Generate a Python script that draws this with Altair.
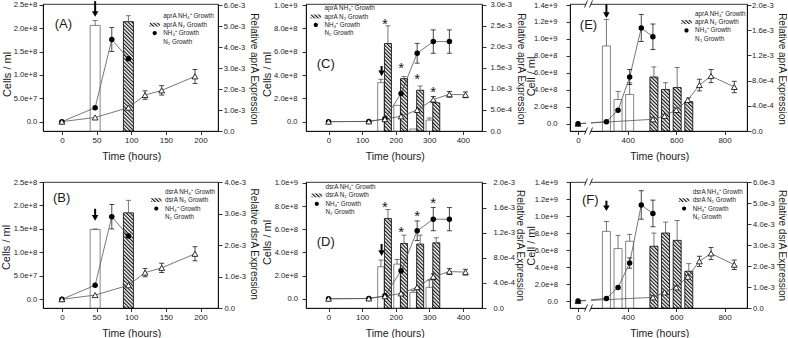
import altair as alt
import pandas as pd
import jinja2

# ====================== DATA ======================
# ---- Panels A / B : growth curves (cells/ml) ----
AB_NH4_T = [0, 48, 72, 96]
AB_NH4_V = [0.0, 3.0e7, 1.76e8, 1.35e8]
AB_NH4_ERR = [0, 0, 2.6e7, 0]
AB_N2_T = [0, 48, 96, 120, 144, 192]
AB_N2_V = [0.0, 9.0e6, 3.0e7, 5.7e7, 6.7e7, 9.7e7]
AB_N2_ERR = [0, 0, 0, 9.0e6, 1.0e7, 1.5e7]
# relative expression bars
A_NH4_BAR_T = [48]
A_NH4_BAR_V = [5.03e-3]
A_NH4_BAR_ERR = [2.4e-4]
A_N2_BAR_T = [96]
A_N2_BAR_V = [5.21e-3]
A_N2_BAR_ERR = [2.8e-4]
B_NH4_BAR_V = [2.49e-3]
B_NH4_BAR_ERR = [2.0e-5]
B_N2_BAR_V = [3.02e-3]
B_N2_BAR_ERR = [4.0e-4]

# ---- Panels C / D ----
CD_NH4_T = [0, 120, 168, 216, 264, 312, 360]
CD_NH4_V = [0.0, 2.0e6, 2.5e7, 2.42e8, 5.87e8, 6.87e8, 6.87e8]
CD_NH4_ERR = [0, 0, 0, 0, 8.5e7, 1.0e8, 1.0e8]
CD_N2_T = [0, 120, 168, 216, 264, 312, 360, 408]
CD_N2_V = [0.0, 2.0e6, 2.2e7, 4.6e7, 1.0e8, 1.9e8, 2.35e8, 2.3e8]
CD_N2_ERR = [0, 0, 0, 0, 0, 2.5e7, 2.5e7, 2.5e7]
CD_BAR_T = [168, 216, 264, 312]
C_NH4_BAR_V = [1.15e-3, 6.1e-4, 4.8e-5, 2.6e-4]
C_NH4_BAR_ERR = [8.0e-5, 0, 0, 5.0e-5]
C_N2_BAR_V = [2.08e-3, 1.246e-3, 9.7e-4, 6.7e-4]
C_N2_BAR_ERR = [4.2e-4, 5.0e-5, 1.0e-4, 0]
C_STAR_Y = [2.63e-3, 1.59e-3, 1.31e-3, 1.02e-3]
D_NH4_BAR_V = [6.58e-4, 7.0e-4, 2.5e-4, 3.3e-4]
D_NH4_BAR_ERR = [1.06e-4, 7.4e-5, 2.7e-5, 1.17e-4]
D_N2_BAR_V = [1.427e-3, 1.03e-3, 1.02e-3, 1.04e-3]
D_N2_BAR_ERR = [1.43e-4, 1.33e-4, 1.43e-4, 8.0e-5]
D_STAR_Y = [1.67e-3, 1.27e-3, 1.52e-3, 1.73e-3]

# ---- Panels E / F ----
EF_NH4_T = [0, 312, 360, 408, 456, 504]
E_NH4_V = [0.0, 2.4e7, 1.58e8, 5.5e8, 1.13e9, 1.026e9]
E_NH4_ERR = [0, 0, 0, 8.8e7, 1.6e8, 1.5e8]
F_NH4_V = [0.0, 3.1e7, 1.6e8, 4.47e8, 1.13e9, 1.03e9]
F_NH4_ERR = [0, 0, 0, 6.0e7, 1.67e8, 1.57e8]
EF_N2_T = [0, 504, 552, 600, 648, 696, 744, 840]
E_N2_V = [0.0, 5.2e7, 9.1e7, 1.62e8, 2.8e8, 4.56e8, 5.62e8, 4.33e8]
E_N2_ERR = [0, 0, 0, 0, 0, 6.9e7, 7.8e7, 6.8e7]
F_N2_V = [0.0, 4.3e7, 1.02e8, 1.6e8, 2.86e8, 4.67e8, 5.6e8, 4.27e8]
F_N2_ERR = [0, 0, 0, 0, 0, 6.0e7, 7.0e7, 5.5e7]
EF_NH4_BAR_T = [312, 360, 408]
EF_N2_BAR_T = [504, 552, 600, 648]
E_NH4_BAR_V = [1.35e-3, 5.0e-4, 5.8e-4]
E_NH4_BAR_ERR = [4.2e-4, 1.3e-4, 1.85e-4]
E_N2_BAR_V = [8.57e-4, 6.6e-4, 6.9e-4, 4.66e-4]
E_N2_BAR_ERR = [1.6e-4, 1.06e-4, 3.2e-4, 6.0e-5]
F_NH4_BAR_V = [3.65e-3, 2.83e-3, 3.18e-3]
F_NH4_BAR_ERR = [4.7e-4, 6.3e-4, 3.3e-4]
F_N2_BAR_V = [2.94e-3, 3.57e-3, 3.22e-3, 1.75e-3]
F_N2_BAR_ERR = [6.3e-4, 5.2e-4, 9.5e-4, 3.6e-4]

# ---- arrows (time, top, tip) in cells/ml ----
ARROW_A = ([48], [2.58e8], [2.25e8])
ARROW_B = ([48], [1.93e8], [1.68e8])
ARROW_C = ([158], [4.77e8], [3.92e8])
ARROW_D = ([158], [4.73e8], [3.72e8])
ARROW_E = ([312], [1.41e9], [1.25e9])
ARROW_F = ([312], [1.18e9], [1.06e9])

# ---- text ----
PANEL_LABELS = ["(A)", "(B)", "(C)", "(D)", "(E)", "(F)"]
GENES = ["aprA", "dsrA"]
X_TITLE = "Time (hours)"

# ====================== STYLE ======================
FONT = "Liberation Sans"
INK = "#1a1a1a"
GREY = "#555555"
FMT = "datum.value == 0 ? '0.0' : format(datum.value, '.1e')"
LEG_PATHS = [
    "M-1.5,-0.55H1.5V0.55H-1.5Z",
    "M-1.5,-0.55H1.5V0.55H-1.5Z",
    "M-1.5,0H1.5M0.6,0A0.6,0.6,0,1,1,-0.6,0A0.6,0.6,0,1,1,0.6,0",
    "M-1.5,0H-0.6M0.6,0H1.5M0,-0.62L0.62,0.45L-0.62,0.45Z",
]
LEG_FILLS = ["white", "url(#hatch)", "black", "white"]


def frame(t, v, e=None):
    d = {"t": t, "v": v}
    if e is not None:
        d["e"] = e
    return pd.DataFrame(d)


def build_panel(p):
    W, H = p["w"], p["h"]
    xs = p["xscale"]
    xaxis = alt.Axis(values=p["xticks"], title=X_TITLE, tickSize=3.5, labelPadding=1.5,
                     labelFontSize=8, titleFontSize=10.5, titleFontWeight="normal",
                     titleX=W / 2 + 0.8, titleY=25, titleAlign="center", titleBaseline="middle")
    lscale = alt.Scale(domain=p["ldom"], nice=False, zero=False)
    laxis = alt.Axis(orient="left", values=p["lticks"], labelExpr=FMT, title=p["ltitle"],
                     tickSize=4, labelPadding=p["lpad"], labelFontSize=7.6,
                     titleFontSize=11, titleFontWeight="normal", titleAngle=-90,
                     titleX=p["ltx"], titleY=p["lty"], titleAlign="center", titleBaseline="middle")
    rscale = alt.Scale(domain=p["rdom"], nice=False, zero=False)
    raxis = alt.Axis(orient="right", values=p["rticks"], labelExpr=FMT, title=p["rtitle"],
                     tickSize=4, labelPadding=p["rpad"], labelFontSize=7.6,
                     titleFontSize=10, titleFontWeight="normal", titleAngle=90,
                     titleX=p["rtx"], titleY=p["rty"], titleAlign="center", titleBaseline="middle")

    def X():
        return alt.X("t", type="quantitative", scale=xs, axis=xaxis)

    def YL(f):
        return alt.Y(f, type="quantitative", scale=lscale, axis=laxis)

    def YR(f):
        return alt.Y(f, type="quantitative", scale=rscale, axis=raxis)

    # ---------- right-axis group: bars ----------
    right = []
    bars = [(p["nh4_bars"], False, p["nh4_bw"], p["nh4_off"]),
            (p["n2_bars"], True, p["n2_bw"], p["n2_off"])]
    for df, hatched, bw, off in bars:
        right.append(alt.Chart(df).mark_bar(
            size=bw, xOffset=off, fill="url(#hatch)" if hatched else "white",
            stroke="black" if hatched else "#666666", strokeWidth=0.8, opacity=1
        ).encode(x=X(), y=YR("v")))
    for df, hatched, bw, off in bars:
        eb = alt.Chart(df).transform_filter("datum.e > 0").transform_calculate(hi="datum.v + datum.e")
        right.append(eb.mark_rule(xOffset=off, color=GREY, strokeWidth=0.8).encode(
            x=X(), y=YR("v"), y2=alt.Y2("hi")))
        right.append(eb.mark_tick(orient="horizontal", size=5, thickness=0.8, xOffset=off,
                                  color=GREY, opacity=1).encode(x=X(), y=YR("hi")))
    if p.get("stars") is not None:
        right.append(alt.Chart(p["stars"]).mark_text(
            text="*", fontSize=15, baseline="alphabetic", dy=8.5, color=INK
        ).encode(x=X(), y=YR("v")))

    # ---------- left-axis group: growth ----------
    left = []
    nh, n2 = p["nh4"], p["n2"]
    for df in (nh, n2):
        left.append(alt.Chart(df).mark_line(color=GREY, strokeWidth=0.8).encode(x=X(), y=YL("v")))
    for df in (nh, n2):
        eb = alt.Chart(df).transform_filter("datum.e > 0").transform_calculate(
            lo="datum.v - datum.e", hi="datum.v + datum.e")
        left.append(eb.mark_rule(color=INK, strokeWidth=0.8).encode(x=X(), y=YL("lo"), y2=alt.Y2("hi")))
        left.append(eb.mark_tick(orient="horizontal", size=5, thickness=0.8, color=INK, opacity=1)
                    .encode(x=X(), y=YL("hi")))
        left.append(eb.mark_tick(orient="horizontal", size=5, thickness=0.8, color=INK, opacity=1)
                    .encode(x=X(), y=YL("lo")))
    circ = alt.Chart(nh).mark_point(shape="circle", filled=True, color="black", size=30,
                                    opacity=1).encode(x=X(), y=YL("v"))
    tri = alt.Chart(n2).mark_point(shape="triangle-up", filled=True, fill="white", stroke="black",
                                   strokeWidth=0.8, size=34, opacity=1).encode(x=X(), y=YL("v"))
    left += [tri, circ] if p["circles_on_top"] else [circ, tri]
    # arrow
    at, atop, atip = p["arrow"]
    adf = pd.DataFrame({"t": at, "top": atop, "tip": atip})
    left.append(alt.Chart(adf).mark_rule(color="black", strokeWidth=2, y2Offset=-3).encode(
        x=X(), y=YL("top"), y2=alt.Y2("tip")))
    left.append(alt.Chart(adf).mark_point(shape="triangle-down", filled=True, color="black",
                                          size=42, opacity=1, yOffset=-2.6).encode(x=X(), y=YL("tip")))

    # ---------- legend ----------
    g = p["gene"]
    names = [f"{g} NH\u2084\u207a Growth", f"{g} N\u2082 Growth", "NH\u2084\u207a Growth", "N\u2082 Growth"]
    leg = alt.Legend(title=None, orient="none", legendX=p["leg_xy"][0], legendY=p["leg_xy"][1],
                     symbolSize=49, symbolStrokeWidth=0.7, symbolStrokeColor="black",
                     symbolOpacity=1, labelFontSize=6.3, labelOffset=4.6, rowPadding=0.4,
                     padding=0, labelColor=INK, labelLimit=200)
    ldf = pd.DataFrame({"name": names, "t": [None] * 4})
    legend_layer = alt.Chart(ldf).mark_point(filled=True, opacity=1, stroke="black",
                                             strokeWidth=0.7).encode(
        x=X(),
        fill=alt.Fill("name:N", scale=alt.Scale(domain=names, range=LEG_FILLS), legend=leg),
        shape=alt.Shape("name:N", scale=alt.Scale(domain=names, range=LEG_PATHS), legend=leg),
    )

    extras = [legend_layer]
    if p.get("axis_break"):
        one = alt.Chart(pd.DataFrame({"k": [0]}))
        extras.append(one.mark_rect(fill="white").encode(
            x=alt.value(16), x2=alt.value(21), y=alt.value(-3), y2=alt.value(3)))
        extras.append(one.mark_rect(fill="white").encode(
            x=alt.value(16), x2=alt.value(21), y=alt.value(H - 15), y2=alt.value(H + 3)))
        for yb in (0, H):
            for xa in (14.5, 19.5):
                extras.append(one.mark_rule(color="black", strokeWidth=0.8).encode(
                    x=alt.value(xa), x2=alt.value(xa + 3), y=alt.value(yb + 3.5), y2=alt.value(yb - 3.5)))

    # panel label (drawn last)
    extras.append(alt.Chart(pd.DataFrame({"lab": [p["label"]]})).mark_text(
        fontSize=13, align="center", baseline="middle", color=INK
    ).encode(x=alt.value(p["lab_xy"][0]), y=alt.value(p["lab_xy"][1]), text="lab:N"))

    return alt.layer(alt.layer(*right), alt.layer(*left), *extras).resolve_scale(
        y="independent").properties(width=W, height=H)


AB_X = alt.Scale(domain=[-20, 218], nice=False, zero=False)
CD_X = alt.Scale(domain=[-52.2, 442.2], nice=False, zero=False)
EF_X = alt.Scale(domain=[-20, 37, 250, 866], range=[0, 14.4, 21.4, 177], nice=False, zero=False)

common_ab = dict(w=175, xscale=AB_X, xticks=[0, 50, 100, 150, 200],
                 lticks=[0, 5e7, 1e8, 1.5e8, 2e8, 2.5e8], ltitle="Cells / ml",
                 nh4=frame(AB_NH4_T, AB_NH4_V, AB_NH4_ERR), n2=frame(AB_N2_T, AB_N2_V, AB_N2_ERR),
                 nh4_bw=10, n2_bw=10, nh4_off=0, n2_off=0, circles_on_top=False)
pA = build_panel(dict(common_ab, h=127, ldom=[-2e7, 2.52e8], rdom=[0, 6.05e-3],
                      rticks=[0, 1e-3, 2e-3, 3e-3, 4e-3, 5e-3, 6e-3],
                      rtitle=f"Relative {GENES[0]} Expression", gene=GENES[0],
                      ltx=-36, lty=70, rtx=35, rty=64.5, lpad=2.3, rpad=1.3,
                      nh4_bars=frame(A_NH4_BAR_T, A_NH4_BAR_V, A_NH4_BAR_ERR),
                      n2_bars=frame(A_N2_BAR_T, A_N2_BAR_V, A_N2_BAR_ERR),
                      arrow=ARROW_A, label=PANEL_LABELS[0], lab_xy=(20.3, 19.5), leg_xy=(107.7, 8.3)))
pB = build_panel(dict(common_ab, h=126, ldom=[-1.85e7, 2.5e8], rdom=[0, 4.0e-3],
                      rticks=[0, 1e-3, 2e-3, 3e-3, 4e-3],
                      rtitle=f"Relative {GENES[1]} Expression", gene=GENES[1],
                      ltx=-36.5, lty=65, rtx=35.3, rty=61.7, lpad=2.3, rpad=2,
                      nh4_bars=frame(A_NH4_BAR_T, B_NH4_BAR_V, B_NH4_BAR_ERR),
                      n2_bars=frame(A_N2_BAR_T, B_N2_BAR_V, B_N2_BAR_ERR),
                      arrow=ARROW_B, label=PANEL_LABELS[1], lab_xy=(18.7, 16), leg_xy=(109.3, 5.7)))

common_cd = dict(w=176, xscale=CD_X, xticks=[0, 100, 200, 300, 400],
                 lticks=[0, 2e8, 4e8, 6e8, 8e8, 1e9], ltitle="Cells / ml",
                 nh4=frame(CD_NH4_T, CD_NH4_V, CD_NH4_ERR), n2=frame(CD_N2_T, CD_N2_V, CD_N2_ERR),
                 nh4_bw=6.5, n2_bw=7, nh4_off=-4, n2_off=3, circles_on_top=False)
pC = build_panel(dict(common_cd, h=127, ldom=[-8e7, 1.009e9], rdom=[0, 3.02e-3],
                      rticks=[0, 5e-4, 1e-3, 1.5e-3, 2e-3, 2.5e-3, 3e-3],
                      rtitle=f"Relative {GENES[0]} Expression", gene=GENES[0],
                      ltx=-38.7, lty=70, rtx=38, rty=64.5, lpad=5, rpad=4,
                      nh4_bars=frame(CD_BAR_T, C_NH4_BAR_V, C_NH4_BAR_ERR),
                      n2_bars=frame(CD_BAR_T, C_N2_BAR_V, C_N2_BAR_ERR),
                      stars=frame(CD_BAR_T, C_STAR_Y),
                      arrow=ARROW_C, label=PANEL_LABELS[2], lab_xy=(19.8, 59.5), leg_xy=(5.8, 0.1)))
pD = build_panel(dict(common_cd, h=126, ldom=[-8e7, 1.0086e9], rdom=[0, 2.01e-3],
                      rticks=[0, 4e-4, 8e-4, 1.2e-3, 1.6e-3, 2e-3],
                      rtitle=f"Relative {GENES[1]} Expression", gene=GENES[1],
                      ltx=-38.2, lty=60, rtx=37.7, rty=63, lpad=4.4, rpad=7,
                      nh4_bars=frame(CD_BAR_T, D_NH4_BAR_V, D_NH4_BAR_ERR),
                      n2_bars=frame(CD_BAR_T, D_N2_BAR_V, D_N2_BAR_ERR),
                      stars=frame(CD_BAR_T, D_STAR_Y),
                      arrow=ARROW_D, label=PANEL_LABELS[3], lab_xy=(19.8, 59.5), leg_xy=(6.8, 1.0)))

common_ef = dict(w=177, xscale=EF_X, xticks=[0, 400, 600, 800],
                 lticks=[0, 2e8, 4e8, 6e8, 8e8, 1e9, 1.2e9, 1.4e9], ltitle="Cell / ml",
                 nh4_bw=8, n2_bw=8, nh4_off=0, n2_off=1, circles_on_top=True, axis_break=True)
pE = build_panel(dict(common_ef, h=127, ldom=[-8.6e7, 1.412e9], rdom=[0, 2.016e-3],
                      rticks=[0, 4e-4, 8e-4, 1.2e-3, 1.6e-3, 2e-3],
                      rtitle=f"Relative {GENES[0]} Expression", gene=GENES[0],
                      ltx=-39, lty=72, rtx=34.3, rty=64.5, lpad=9, rpad=0.6,
                      nh4=frame(EF_NH4_T, E_NH4_V, E_NH4_ERR), n2=frame(EF_N2_T, E_N2_V, E_N2_ERR),
                      nh4_bars=frame(EF_NH4_BAR_T, E_NH4_BAR_V, E_NH4_BAR_ERR),
                      n2_bars=frame(EF_N2_BAR_T, E_N2_BAR_V, E_N2_BAR_ERR),
                      arrow=ARROW_E, label=PANEL_LABELS[4], lab_xy=(18.5, 21.2), leg_xy=(112.5, 5.6)))
pF = build_panel(dict(common_ef, h=126, ldom=[-8.2e7, 1.4e9], rdom=[0, 6.0e-3],
                      rticks=[0, 1e-3, 2e-3, 3e-3, 4e-3, 5e-3, 6e-3],
                      rtitle=f"Relative {GENES[1]} Expression", gene=GENES[1],
                      ltx=-39, lty=63.4, rtx=34.3, rty=63, lpad=8.4, rpad=1.6,
                      nh4=frame(EF_NH4_T, F_NH4_V, F_NH4_ERR), n2=frame(EF_N2_T, F_N2_V, F_N2_ERR),
                      nh4_bars=frame(EF_NH4_BAR_T, F_NH4_BAR_V, F_NH4_BAR_ERR),
                      n2_bars=frame(EF_N2_BAR_T, F_N2_BAR_V, F_N2_BAR_ERR),
                      arrow=ARROW_F, label=PANEL_LABELS[5], lab_xy=(20.3, 17.9), leg_xy=(110.1, 5.7)))

IND = dict(fill="independent", shape="independent")
chart = (
    alt.concat(pA, pC, pE, pB, pD, pF, columns=3, spacing={"row": 51, "column": 88},
               bounds="flush", align="each")
    .resolve_scale(**IND).resolve_legend(**IND)
    .properties(padding={"left": 0, "top": -1, "right": 0, "bottom": 0})
    .configure(font=FONT)
    .configure_view(stroke="black", strokeWidth=0.8)
    .configure_axis(domainColor="black", domainWidth=0.8, tickColor="black", tickWidth=0.8,
                    labelColor=INK, titleColor=INK, grid=False, labelFlush=False,
                    labelOverlap=False, labelBound=False)
)

TEMPLATE = jinja2.Template("""<!DOCTYPE html>
<html>
<head>
<meta charset="utf-8">
<style>
  html, body { margin: 0; padding: 0; background: white; }
</style>
<script type="text/javascript" src="{{ base_url }}/vega@{{ vega_version }}"></script>
<script type="text/javascript" src="{{ base_url }}/vega-lite@{{ vegalite_version }}"></script>
<script type="text/javascript" src="{{ base_url }}/vega-embed@{{ vegaembed_version }}"></script>
</head>
<body>
<svg width="0" height="0" style="position:absolute;left:0;top:0" aria-hidden="true">
  <defs>
    <pattern id="hatch" patternUnits="userSpaceOnUse" width="2.6" height="2.6" patternTransform="rotate(-45)">
      <rect x="0" y="0" width="2.6" height="2.6" fill="white"></rect>
      <rect x="0" y="0" width="1.15" height="2.6" fill="#111111"></rect>
    </pattern>
  </defs>
</svg>
<div id="{{ output_div }}"></div>
<script>
  vegaEmbed("#{{ output_div }}", {{ spec }}, {{ embed_options }}).catch(console.error);
</script>
</body>
</html>
""")

chart.save("out.html", embed_options={"renderer": "svg", "actions": False}, template=TEMPLATE)
